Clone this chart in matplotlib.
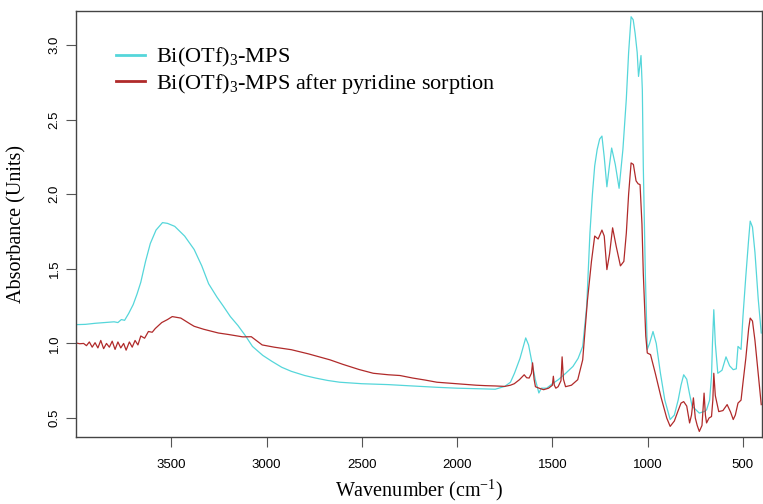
import numpy as np
from matplotlib import pyplot as plt

# Bi(OTf)3-MPS  (wavenumber, absorbance)
wn_mps = [4000, 3950, 3900, 3850, 3800, 3780, 3762, 3745, 3724, 3700, 3680, 3660, 3635,
          3610, 3580, 3546, 3520, 3482, 3430, 3380, 3340, 3304, 3260, 3227, 3190,
          3150, 3110, 3074, 3020, 2972, 2920, 2870, 2800, 2743, 2680, 2616, 2500,
          2361, 2250, 2106, 2000, 1851, 1800, 1750, 1720, 1699, 1670, 1640, 1625,
          1610, 1590, 1571, 1558, 1530, 1500, 1469, 1430, 1392, 1365, 1341, 1320,
          1303, 1290, 1278, 1265, 1252, 1240, 1228, 1214, 1200, 1189, 1170, 1150,
          1130, 1112, 1100, 1087, 1076, 1066, 1055, 1048, 1035, 1028, 1023, 1012,
          1002, 990, 972, 955, 933, 910, 882, 860, 840, 825, 811, 795, 780, 767,
          729, 700, 691, 675, 665, 660, 653, 645, 632, 610, 589, 570, 551, 535,
          526, 510, 500, 485, 470, 462, 450, 437, 420, 404]
ab_mps = [1.126, 1.128, 1.135, 1.14, 1.145, 1.14, 1.16, 1.155, 1.20, 1.26, 1.33, 1.41, 1.55,
          1.67, 1.76, 1.81, 1.805, 1.785, 1.72, 1.63, 1.52, 1.40, 1.31, 1.25, 1.18,
          1.12, 1.05, 0.98, 0.92, 0.88, 0.84, 0.813, 0.785, 0.768, 0.752, 0.74, 0.73,
          0.724, 0.716, 0.706, 0.70, 0.695, 0.693, 0.712, 0.74, 0.80, 0.90, 1.037, 0.99,
          0.89, 0.76, 0.668, 0.70, 0.70, 0.73, 0.757, 0.80, 0.846, 0.90, 0.98, 1.25,
          1.74, 2.00, 2.19, 2.30, 2.37, 2.39, 2.25, 2.05, 2.20, 2.31, 2.20, 2.04,
          2.30, 2.64, 2.95, 3.19, 3.17, 3.08, 2.95, 2.79, 2.93, 2.70, 2.19, 1.45,
          0.96, 1.00, 1.08, 1.00, 0.80, 0.62, 0.49, 0.52, 0.62, 0.72, 0.79, 0.76, 0.66, 0.58,
          0.533, 0.545, 0.555, 0.62, 0.78, 1.00, 1.226, 1.00, 0.80, 0.82, 0.91, 0.85, 0.824, 0.83,
          0.98, 0.96, 1.18, 1.45, 1.70, 1.82, 1.78, 1.61, 1.30, 1.07]

# Bi(OTf)3-MPS after pyridine sorption
wn_pyr = [4000, 3980, 3960, 3945, 3930, 3915, 3900, 3885, 3870, 3855, 3840, 3825, 3810,
          3795, 3780, 3765, 3750, 3737, 3720, 3705, 3690, 3675, 3660, 3640, 3620, 3600,
          3584, 3550, 3520, 3495, 3450, 3400, 3380, 3330, 3253, 3200, 3125, 3080,
          3023, 2960, 2870, 2780, 2667, 2600, 2514, 2440, 2361, 2300, 2233, 2170,
          2106, 2000, 1900, 1851, 1800, 1750, 1720, 1700, 1673, 1648, 1635, 1622,
          1610, 1604, 1596, 1589, 1570, 1546, 1520, 1500, 1495, 1490, 1482, 1470,
          1455, 1449, 1442, 1431, 1400, 1367, 1341, 1316, 1295, 1278, 1260, 1240,
          1228, 1214, 1200, 1184, 1165, 1143, 1125, 1112, 1100, 1087, 1075, 1061,
          1050, 1040, 1030, 1023, 1010, 1002, 985, 960, 930, 900, 882, 860, 840,
          825, 811, 795, 780, 770, 760, 750, 740, 729, 715, 704, 697, 691, 678, 665,
          658, 653, 645, 627, 605, 583, 565, 551, 540, 526, 510, 500, 485, 470,
          462, 450, 437, 420, 404]
ab_pyr = [1.003, 0.998, 1.00, 0.985, 1.01, 0.975, 1.005, 0.97, 1.02, 0.965, 1.00, 0.975, 1.015,
          0.96, 1.01, 0.97, 1.00, 0.955, 1.01, 0.975, 1.02, 0.99, 1.05, 1.035, 1.08, 1.075,
          1.10, 1.14, 1.16, 1.18, 1.17, 1.13, 1.115, 1.095, 1.07, 1.06, 1.044, 1.045,
          0.99, 0.975, 0.958, 0.93, 0.89, 0.86, 0.825, 0.80, 0.79, 0.785, 0.768, 0.755,
          0.74, 0.73, 0.72, 0.717, 0.715, 0.712, 0.72, 0.73, 0.757, 0.79, 0.77, 0.768,
          0.80, 0.87, 0.76, 0.71, 0.70, 0.69, 0.70, 0.72, 0.78, 0.72, 0.70, 0.71,
          0.75, 0.91, 0.76, 0.71, 0.72, 0.757, 0.89, 1.29, 1.55, 1.72, 1.70, 1.76,
          1.72, 1.495, 1.60, 1.775, 1.65, 1.52, 1.55, 1.74, 2.00, 2.21, 2.20, 2.09,
          2.07, 2.065, 1.80, 1.47, 1.05, 0.936, 0.925, 0.80, 0.64, 0.50, 0.444, 0.48, 0.55,
          0.60, 0.61, 0.58, 0.467, 0.52, 0.635, 0.50, 0.45, 0.41, 0.45, 0.667, 0.52, 0.467, 0.50, 0.51,
          0.62, 0.80, 0.65, 0.543, 0.55, 0.59, 0.54, 0.49, 0.52, 0.60, 0.62, 0.735, 0.90, 1.10,
          1.17, 1.15, 1.02, 0.80, 0.59]

serif = ['Liberation Serif', 'DejaVu Serif']
sans = ['Liberation Sans', 'DejaVu Sans']
plt.rcParams['mathtext.fontset'] = 'custom'
plt.rcParams['mathtext.rm'] = 'Liberation Serif'

fig = plt.figure(figsize=(7.63, 5.04), dpi=100)
ax = fig.add_axes([0.0996, 0.133, 0.8991, 0.845])

ax.plot(wn_mps, ab_mps, color='#55d6da', lw=0.9, label='Bi(OTf)$_3$-MPS')
ax.plot(wn_pyr, ab_pyr, color='#b02a2a', lw=0.9, label='Bi(OTf)$_3$-MPS after pyridine sorption')

ax.set_xlim(4000, 400)
ax.set_ylim(0.373, 3.228)
ax.set_xticks([3500, 3000, 2500, 2000, 1500, 1000, 500])
ax.set_yticks([0.5, 1.0, 1.5, 2.0, 2.5, 3.0])
ax.set_yticklabels(['0.5', '1.0', '1.5', '2.0', '2.5', '3.0'], rotation=90, va='center')
for lab in ax.get_xticklabels() + ax.get_yticklabels():
    lab.set_family(sans)
    lab.set_fontsize(9.5)
ax.tick_params(length=7, width=0.8, color='#555555')
ax.tick_params(axis='x', pad=9)
ax.tick_params(axis='y', pad=4)

for s in ax.spines.values():
    s.set_color('#444444')
    s.set_linewidth(1.0)

ax.set_xlabel('Wavenumber (cm$^{-1}$)', family=serif, fontsize=14.5, va='center')
ax.xaxis.set_label_coords(0.5, -0.124)
ax.set_ylabel('Absorbance (Units)', family=serif, fontsize=14.5, va='center')
ax.yaxis.set_label_coords(-0.086, 0.5)

leg = ax.legend(loc='upper left', bbox_to_anchor=(0.046, 0.939), frameon=False,
                prop={'family': serif, 'size': 16}, handlelength=1.3,
                handletextpad=0.5, labelspacing=0.12, borderaxespad=0)
for l in leg.get_lines():
    l.set_linewidth(2)

fig.savefig('out.png', dpi=100)
